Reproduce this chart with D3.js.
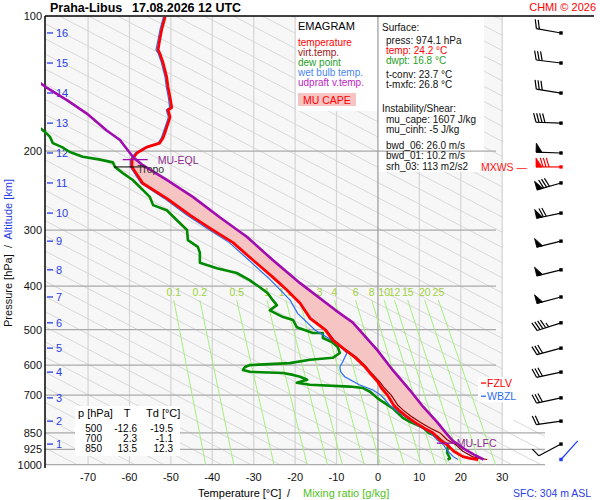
<!DOCTYPE html>
<html>
<head>
<meta charset="utf-8">
<script src="https://cdn.jsdelivr.net/npm/d3@7"></script>
<style>
body { margin: 0; background: #fff; }
text { font-family: "Liberation Sans", Arial, sans-serif; }
</style>
</head>
<body>
<svg id="chart"></svg>
<script>
// axis ticks
var pressureTicks = [100, 200, 300, 400, 500, 600, 700, 850, 925, 1000];
var tempTicks = [-70, -60, -50, -40, -30, -20, -10, 0, 10, 20, 30];

// mixing ratio lines: label, temperature at 430 hPa and at 1000 hPa
var mixRatio = ['0.1', '0.2', '0.5', '1', '1.5', '2', '3', '4', '6', '8', '10', '12', '15', '20', '25'];
var mixTopT = [-49.3, -43.0, -34.1, -26.8, -22.2, -18.9, -14.1, -10.5, -5.4, -1.5, 1.5, 4.0, 7.2, 11.3, 14.6];
var mixBotT = [-41.6, -34.8, -25.1, -17.1, -12.2, -8.6, -3.3, 0.6, 6.3, 10.5, 13.9, 16.6, 20.1, 24.7, 28.4];

// altitude (km) and its pressure level
var altKm = [1, 2, 3, 4, 5, 6, 7, 8, 9, 10, 11, 12, 13, 14, 15, 16];
var altP = [900, 800, 710, 622, 550, 483, 423, 368, 317.6, 275, 235.6, 202, 173.3, 148.5, 127.3, 109.1];

// soundings [pressure hPa, value °C]
var temperature = [[100.5,-51.4],[107,-52.2],[113,-52.7],[119,-53.1],[121,-52.7],[127,-51.9],[137,-51.0],[144,-50.7],[152,-50.2],[160,-49.8],[162,-50.7],[168,-50.2],[177,-51.0],[187,-51.9],[192,-52.7],[196,-55.8],[202,-58.2],[209,-59.4],[217,-59.4],[236,-56.8],[255,-51.0],[278,-45.4],[297,-40.6],[320,-35.0],[350,-30.2],[382,-25.4],[408,-22.0],[437,-18.8],[472,-16.4],[500,-12.8],[528,-10.9],[550,-8.5],[576,-5.6],[606,-3.1],[625,-1.9],[655,0.0],[674,0.8],[700,2.3],[737,3.8],[756,5.0],[780,6.8],[806,9.0],[831,11.3],[850,13.3],[880,14.9],[903,16.7],[934,18.3],[960,20.5],[969,22.2],[974.1,24.2]];
var virtTemp = [[437,-18.7],[472,-16.2],[500,-12.5],[528,-10.6],[550,-8.2],[576,-5.2],[606,-2.8],[625,-1.6],[655,0.5],[674,1.5],[700,3.2],[737,4.8],[756,6.1],[780,8.0],[806,10.3],[831,12.8],[850,15.0],[880,16.7],[903,18.8],[934,20.5],[960,22.8],[969,24.5],[974.1,26.4]];
var dewPoint = [[178,-81.5],[182,-80.2],[186,-79.2],[192,-78.5],[196,-76.3],[201,-74.4],[206,-71.3],[209,-67.1],[212,-64.0],[217,-63.5],[224,-61.6],[232,-59.2],[253,-55.1],[264,-54.3],[271,-51.0],[285,-48.6],[300,-46.1],[316,-45.9],[327,-43.5],[337,-43.0],[355,-43.0],[365,-38.9],[374,-34.1],[388,-31.0],[402,-28.6],[415,-26.6],[430,-25.4],[441,-24.4],[453,-26.1],[469,-22.9],[476,-20.5],[494,-19.6],[509,-15.7],[509,-13.3],[522,-13.3],[533,-11.1],[547,-9.7],[564,-9.2],[578,-10.9],[584,-16.4],[594,-21.3],[600,-30.9],[606,-32.1],[615,-32.6],[621,-30.9],[625,-22.9],[631,-20.5],[637,-18.8],[647,-17.1],[657,-19.6],[664,-16.4],[670,-6.8],[675,-3.6],[688,-1.9],[710,-0.2],[725,1.2],[749,3.6],[787,6.0],[803,7.7],[827,10.9],[850,12.3],[865,14.3],[890,15.7],[903,16.9],[941,16.7],[969,17.4],[974.1,16.8]];
var wetBulb = [[100.5,-51.8],[107,-52.6],[113,-53.1],[119,-53.6],[121,-53.1],[127,-52.3],[137,-51.4],[144,-51.1],[152,-50.6],[160,-50.3],[162,-51.1],[168,-50.6],[177,-51.4],[187,-52.3],[192,-53.1],[196,-56.2],[202,-58.6],[209,-59.8],[217,-59.8],[236,-57.2],[255,-51.6],[278,-46.1],[297,-41.4],[320,-35.9],[350,-31.2],[388,-25.9],[430,-21.2],[460,-19.4],[501,-15.2],[520,-12.3],[536,-9.9],[564,-7.5],[590,-8.5],[606,-9.2],[621,-9.0],[637,-8.0],[664,-4.5],[682,-1.2],[700,0.7],[718,1.8],[737,2.8],[756,4.3],[780,6.4],[806,8.5],[831,10.8],[850,12.7],[880,14.3],[903,15.8],[934,16.9],[960,18.2],[974.1,19.3]];
var parcel = [[136,-84],[144,-80.2],[154,-75.1],[165,-70.3],[180,-65.5],[189,-62.3],[206,-59.2],[215,-56.8],[232,-51.0],[253,-44.7],[281,-38.2],[311,-31.6],[350,-25.4],[394,-18.8],[453,-10.2],[483,-6.0],[555,-0.2],[616,3.6],[682,7.7],[743,10.9],[804,14.3],[850,16.4],[885,18.1],[925,21.0],[950,23.2],[974.1,25.5]];

// levels
var sfcP = 974.1;
var lfcP = 896, lfcT = 17.6;
var eqlP = 209, eqlT = -58.5;
var tropoP = 217, tropoT = -59.6;
var fzlvP = 658, wbzlP = 704;

// winds (kt)
var windP = altP;
var windDir = [242, 262, 258, 258, 255, 252, 255, 256, 256, 258, 254, 272, 272, 279, 277, 280];
var windSpd = [10, 20, 30, 30, 30, 45, 50, 50, 50, 70, 80, 50, 40, 30, 30, 20];
var maxWindP = 217, maxWindDir = 270, maxWindSpd = 80;
var sfcVecDir = 42;

// table
var tableP = [500, 700, 850];
var tableT = ['-12.6', '2.3', '13.5'];
var tableTd = ['-19.5', '-1.1', '12.3'];

var svg = d3.select('#chart').attr('width', 600).attr('height', 500);

var x = d3.scaleLinear().domain([-80.4, 30.2]).range([45, 503]);
var y = d3.scaleLog().domain([100, 1000]).range([16, 464.6]);
var pLeft = 45, pRight = 503, pTop = 16, pBottom = 465;

var defs = svg.append('defs');
defs.append('clipPath').attr('id', 'plotClip')
    .append('rect').attr('x', 41).attr('y', pTop).attr('width', 545 - 41).attr('height', 470 - pTop);
defs.append('clipPath').attr('id', 'adiabatClip')
    .append('polygon').attr('points', [[pLeft, pTop], [pRight, pTop], [pRight, 420], [545, 420], [545, pBottom], [pLeft, pBottom]].join(' '));

// background
svg.append('rect').attr('x', pLeft).attr('y', pTop).attr('width', pRight - pLeft).attr('height', pBottom - pTop).attr('fill', '#f7f7f7');

// diagonal reference lines
var diag = svg.append('g').attr('clip-path', 'url(#adiabatClip)');
d3.range(-33, 13).forEach(function (k) {
    var t0 = 151.3 + 7 * k;
    diag.append('line')
        .attr('x1', x(t0 - 207.2)).attr('y1', y(100))
        .attr('x2', x(t0)).attr('y2', y(1000))
        .attr('stroke', '#d9d9d9').attr('stroke-width', 1);
});

// isotherms
tempTicks.forEach(function (t) {
    if (t === 0) return;
    svg.append('line').attr('x1', x(t)).attr('x2', x(t)).attr('y1', pTop).attr('y2', pBottom)
        .attr('stroke', '#d4d4d4').attr('stroke-width', 1.2);
});

// white boxes for legend and info panel
svg.append('rect').attr('x', 296).attr('y', pTop + 1).attr('width', 82).attr('height', 94).attr('fill', '#fff');
svg.append('rect').attr('x', 378).attr('y', pTop + 1).attr('width', 106).attr('height', 155).attr('fill', '#fff');

// isobars
pressureTicks.forEach(function (p) {
    if (p === 100) return;
    svg.append('line').attr('x1', pLeft).attr('x2', p >= 850 ? 545 : 496)
        .attr('y1', y(p)).attr('y2', y(p))
        .attr('stroke', '#aaa').attr('stroke-width', 1.2);
});
svg.append('line').attr('x1', x(0)).attr('x2', x(0)).attr('y1', pTop).attr('y2', pBottom)
    .attr('stroke', '#999').attr('stroke-width', 1.2);

// mixing ratio lines
mixRatio.forEach(function (m, i) {
    svg.append('line')
        .attr('x1', x(mixTopT[i])).attr('y1', y(430))
        .attr('x2', x(mixBotT[i])).attr('y2', y(1000))
        .attr('stroke', '#a6ef80').attr('stroke-width', 1);
    svg.append('text')
        .attr('x', x(mixTopT[i])).attr('y', y(430) - 4)
        .attr('text-anchor', 'middle').attr('font-size', 10.5)
        .attr('fill', '#9fd23c').text(m);
});

// axes
svg.append('line').attr('x1', pLeft).attr('x2', pLeft).attr('y1', pTop).attr('y2', 468)
    .attr('stroke', '#000').attr('stroke-width', 1.5);
svg.append('line').attr('x1', pLeft).attr('x2', 594).attr('y1', pTop).attr('y2', pTop)
    .attr('stroke', '#000').attr('stroke-width', 1.5);

pressureTicks.forEach(function (p) {
    svg.append('text').attr('x', 42).attr('y', y(p) + 4)
        .attr('text-anchor', 'end').attr('font-size', 11).attr('fill', '#111').text(p);
});
tempTicks.forEach(function (t) {
    svg.append('text').attr('x', x(t)).attr('y', 481)
        .attr('text-anchor', 'middle').attr('font-size', 11).attr('fill', '#111').text(t);
});

// altitude ticks
altKm.forEach(function (k, i) {
    svg.append('line').attr('x1', 47).attr('x2', 53).attr('y1', y(altP[i])).attr('y2', y(altP[i]))
        .attr('stroke', '#2a3ee6').attr('stroke-width', 1.3);
    svg.append('text').attr('x', 56).attr('y', y(altP[i]) + 4)
        .attr('font-size', 11).attr('fill', '#2a3ee6').text(k);
});

// curves
var curves = svg.append('g').attr('clip-path', 'url(#plotClip)');
var line = d3.line().x(function (d) { return x(d[1]); }).y(function (d) { return y(d[0]); });

// MU CAPE area
var capeUp = [[lfcP, lfcT]].concat(parcel.filter(function (d) { return d[0] < lfcP && d[0] >= eqlP - 3; }).reverse());
var capeEnv = temperature.filter(function (d) { return d[0] >= eqlP && d[0] <= lfcP; });
curves.append('path').datum(capeUp.concat(capeEnv))
    .attr('d', line).attr('fill', '#f7c4c4').attr('stroke', 'none');

curves.append('path').datum(dewPoint).attr('d', line)
    .attr('fill', 'none').attr('stroke', '#008a00').attr('stroke-width', 2.6).attr('stroke-linejoin', 'round');
curves.append('path').datum(wetBulb).attr('d', line)
    .attr('fill', 'none').attr('stroke', '#2c6ef2').attr('stroke-width', 1.2);
curves.append('path').datum(virtTemp).attr('d', line)
    .attr('fill', 'none').attr('stroke', '#8a0000').attr('stroke-width', 1.2);
curves.append('path').datum(temperature).attr('d', line)
    .attr('fill', 'none').attr('stroke', '#ff0000').attr('stroke-width', 2.8).attr('stroke-linejoin', 'round');
curves.append('path').datum(parcel).attr('d', line)
    .attr('fill', 'none').attr('stroke', '#a00cae').attr('stroke-width', 2.6).attr('stroke-linejoin', 'round');

// level markers
svg.append('line').attr('x1', x(eqlT) - 13).attr('x2', x(eqlT) + 12).attr('y1', y(eqlP)).attr('y2', y(eqlP))
    .attr('stroke', '#a00cae').attr('stroke-width', 1.3);
svg.append('text').attr('x', x(eqlT) + 22).attr('y', y(eqlP) + 4).attr('font-size', 10.5)
    .attr('fill', '#8e2a90').text('MU-EQL');
svg.append('line').attr('x1', x(tropoT) - 17).attr('x2', x(tropoT) + 15).attr('y1', y(tropoP)).attr('y2', y(tropoP))
    .attr('stroke', '#000').attr('stroke-width', 1);
svg.append('text').attr('x', x(tropoT) + 6).attr('y', y(tropoP) + 6).attr('font-size', 10.5)
    .attr('fill', '#333').text('Tropo');
svg.append('line').attr('x1', x(lfcT) - 14).attr('x2', x(lfcT) + 6).attr('y1', y(lfcP)).attr('y2', y(lfcP))
    .attr('stroke', '#a00cae').attr('stroke-width', 1.3);
svg.append('text').attr('x', x(lfcT) + 6).attr('y', y(lfcP) + 4).attr('font-size', 10.5)
    .attr('fill', '#8e2a90').text('MU-LFC');

// FZLV / WBZL
svg.append('rect').attr('x', 478).attr('y', y(fzlvP) - 6).attr('width', 45).attr('height', y(wbzlP) - y(fzlvP) + 12).attr('fill', '#fff');
svg.append('line').attr('x1', 481).attr('x2', 486).attr('y1', y(fzlvP)).attr('y2', y(fzlvP)).attr('stroke', '#f00').attr('stroke-width', 1.3);
svg.append('text').attr('x', 487).attr('y', y(fzlvP) + 4).attr('font-size', 10.5).attr('fill', '#f00').text('FZLV');
svg.append('line').attr('x1', 481).attr('x2', 486).attr('y1', y(wbzlP)).attr('y2', y(wbzlP)).attr('stroke', '#2c6ef2').attr('stroke-width', 1.3);
svg.append('text').attr('x', 487).attr('y', y(wbzlP) + 4).attr('font-size', 10.5).attr('fill', '#2c6ef2').text('WBZL');

// table
svg.append('rect').attr('x', 75).attr('y', 406).attr('width', 105).attr('height', 50).attr('fill', '#fff');
svg.append('text').attr('x', 78).attr('y', 417).attr('font-size', 11).text('p [hPa]');
svg.append('text').attr('x', 127).attr('y', 417).attr('font-size', 11).attr('text-anchor', 'middle').text('T');
svg.append('text').attr('x', 146).attr('y', 417).attr('font-size', 11).text('Td [°C]');
tableP.forEach(function (p, i) {
    var ty = 432 + i * 10;
    svg.append('text').attr('x', 102).attr('y', ty).attr('font-size', 10).attr('text-anchor', 'end').text(p);
    svg.append('text').attr('x', 137).attr('y', ty).attr('font-size', 10).attr('text-anchor', 'end').text(tableT[i]);
    svg.append('text').attr('x', 173).attr('y', ty).attr('font-size', 10).attr('text-anchor', 'end').text(tableTd[i]);
});

// legend
var legend = [
    ['EMAGRAM', '#000', 30],
    ['temperature', '#ff0000', 46],
    ['virt.temp.', '#a01414', 56],
    ['dew point', '#1fa01f', 66],
    ['wet bulb temp.', '#4a86f5', 76],
    ['udpraft v.temp.', '#c024c6', 86]
];
legend.forEach(function (l) {
    svg.append('text').attr('x', 298).attr('y', l[2]).attr('font-size', l[0] === 'EMAGRAM' ? 11 : 10)
        .attr('fill', l[1]).text(l[0]);
});
svg.append('rect').attr('x', 298).attr('y', 93).attr('width', 58).attr('height', 13).attr('fill', '#f7c4c4');
svg.append('text').attr('x', 303).attr('y', 104).attr('font-size', 10.5).attr('fill', '#f00').text('MU CAPE');

// info panel
var info = [
    ['Surface:', '#111', 382, 31],
    ['press: 974.1 hPa', '#111', 386, 44],
    ['temp: 24.2 °C', '#ff0000', 386, 54],
    ['dwpt: 16.8 °C', '#1fa01f', 386, 64],
    ['t-conv: 23.7 °C', '#111', 386, 78],
    ['t-mxfc: 26.8 °C', '#111', 386, 88],
    ['Instability/Shear:', '#111', 382, 112],
    ['mu_cape: 1607 J/kg', '#111', 386, 123],
    ['mu_cinh: -5 J/kg', '#111', 386, 133],
    ['bwd_06: 26.0 m/s', '#111', 386, 149],
    ['bwd_01: 10.2 m/s', '#111', 386, 159],
    ['srh_03: 113 m2/s2', '#111', 386, 170]
];
info.forEach(function (r) {
    svg.append('text').attr('x', r[2]).attr('y', r[3]).attr('font-size', 10).attr('fill', r[1]).text(r[0]);
});

// wind barbs
function barb(x0, y0, dir, spd, color) {
    var g = svg.append('g');
    var r = dir * Math.PI / 180, sx = Math.sin(r), sy = -Math.cos(r);
    var px = -sy, py = sx;
    var L = 25, ex = x0 + sx * L, ey = y0 + sy * L, tl = 9, tilt = 0.3;
    g.append('line').attr('x1', x0).attr('y1', y0).attr('x2', ex).attr('y2', ey)
        .attr('stroke', color).attr('stroke-width', 1.2);
    g.append('rect').attr('x', x0 - 1.7).attr('y', y0 - 1.7).attr('width', 3.4).attr('height', 3.4).attr('fill', color);
    var v = Math.round(spd / 5) * 5, pos = 0;
    while (v >= 50) {
        var bx = ex - sx * pos, by = ey - sy * pos;
        var cx = ex - sx * (pos + 6), cy = ey - sy * (pos + 6);
        g.append('polygon').attr('points', [[bx, by], [bx + px * tl, by + py * tl], [cx, cy]].join(' '))
            .attr('fill', color).attr('stroke', color).attr('stroke-width', 0.8);
        pos += 7; v -= 50;
    }
    while (v >= 10) {
        var ax = ex - sx * pos, ay = ey - sy * pos;
        g.append('line').attr('x1', ax).attr('y1', ay)
            .attr('x2', ax + px * tl + sx * tl * tilt).attr('y2', ay + py * tl + sy * tl * tilt)
            .attr('stroke', color).attr('stroke-width', 1.2);
        pos += 3; v -= 10;
    }
    if (v >= 5) {
        if (pos === 0) pos = 3;
        var hx = ex - sx * pos, hy = ey - sy * pos;
        g.append('line').attr('x1', hx).attr('y1', hy)
            .attr('x2', hx + px * tl / 2 + sx * tl * tilt / 2).attr('y2', hy + py * tl / 2 + sy * tl * tilt / 2)
            .attr('stroke', color).attr('stroke-width', 1.2);
    }
}
windP.forEach(function (p, i) { barb(561, y(p), windDir[i], windSpd[i], '#000'); });
barb(561, y(maxWindP), maxWindDir, maxWindSpd, '#ff0000');
barb(561, y(sfcP), sfcVecDir, 0, '#1f3cff');
svg.append('text').attr('x', 527).attr('y', y(maxWindP) + 4).attr('text-anchor', 'end')
    .attr('font-size', 10.5).attr('fill', '#ff2020').style('white-space', 'pre').text('MXWS —');

// titles
svg.append('text').attr('x', 50).attr('y', 12).attr('font-size', 12.5).attr('font-weight', 'bold').text('Praha-Libus');
svg.append('text').attr('x', 132).attr('y', 12).attr('font-size', 12.5).attr('font-weight', 'bold').text('17.08.2026 12 UTC');
svg.append('text').attr('x', 596).attr('y', 11).attr('text-anchor', 'end').attr('font-size', 11).attr('fill', '#f00').text('CHMI © 2026');

svg.append('text').attr('x', 198).attr('y', 497).attr('font-size', 11).text('Temperature [°C]');
svg.append('text').attr('x', 287).attr('y', 497).attr('font-size', 11).text('/');
svg.append('text').attr('x', 303).attr('y', 497).attr('font-size', 11).attr('fill', '#4fbf22').text('Mixing ratio [g/kg]');
svg.append('text').attr('x', 513).attr('y', 497).attr('font-size', 10.5).attr('fill', '#2a3ee6').text('SFC: 304 m ASL');

var ylab = svg.append('text').attr('transform', 'translate(12,253) rotate(-90)')
    .attr('text-anchor', 'middle').attr('font-size', 11).style('white-space', 'pre');
ylab.append('tspan').attr('fill', '#111').text('Pressure [hPa]  /  ');
ylab.append('tspan').attr('fill', '#2a3ee6').text('Altitude [km]');
</script>
</body>
</html>
